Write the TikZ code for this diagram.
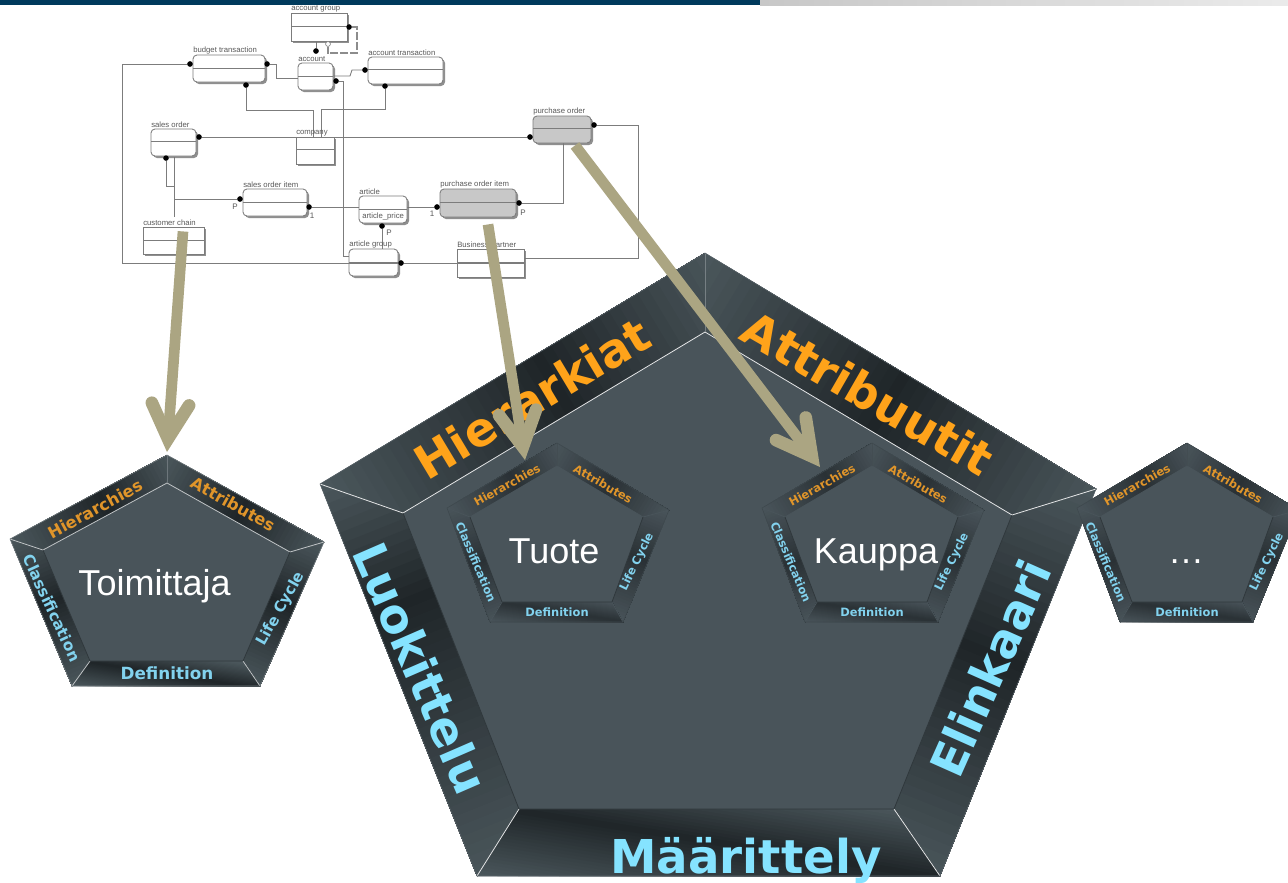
\documentclass[tikz,border=0pt]{standalone}
\usepackage{fontspec}
\setmainfont{Liberation Sans}
\newfontfamily\dvb{DejaVu Sans Bold}
\usetikzlibrary{arrows.meta,shadows,calc}
\definecolor{facecol}{HTML}{49545A}
\definecolor{darkcol}{HTML}{1F2528}
\definecolor{softdark}{HTML}{2A3135}
\definecolor{lightcol}{HTML}{4A565B}
\definecolor{orangeA}{HTML}{FFA31A}
\definecolor{cyanA}{HTML}{85E3FF}
\definecolor{orangeB}{HTML}{E0952A}
\definecolor{cyanB}{HTML}{82D2EE}
\definecolor{arrowcol}{HTML}{ABA582}
\definecolor{barblue}{HTML}{003A5C}
\definecolor{erlinecol}{HTML}{7C7C7C}
\definecolor{ergray}{HTML}{C8C8C8}
\tikzset{
 erbase/.style={draw=erlinecol,line width=0.65pt,inner sep=0pt,drop shadow={shadow xshift=1.5pt,shadow yshift=-1.5pt,fill=black!55,opacity=.8}},
 erconn/.style={draw=erlinecol,line width=0.65pt},
 erdot/.style={circle,fill=black,inner sep=0pt,minimum size=4pt},
 opendot/.style={circle,fill=white,draw=erlinecol,line width=.4pt,inner sep=0pt,minimum size=3.4pt},
 erlabel/.style={anchor=south west,inner sep=0pt,font=\fontsize{5.8}{6}\selectfont,text=black!65},
 ercard/.style={inner sep=0pt,font=\fontsize{6}{6}\selectfont,text=black!65},
 bigarrow/.style={draw=arrowcol,line width=8pt,-{Straight Barb[length=26pt,width=28pt,line width=9.5pt,line cap=round,line join=miter]}},
 seam/.style={line width=.6pt},
 smallorange/.style={inner sep=0pt,text=orangeB,font=\dvb\fontsize{8.6}{9}\selectfont},
 smallcyan/.style={inner sep=0pt,text=cyanB,font=\dvb\fontsize{8.6}{9}\selectfont},
 midtext/.style={inner sep=0pt,text=#1},
 bigorange/.style={inner sep=0pt,text=orangeA,font=\dvb\fontsize{35}{36}\selectfont},
 bigcyan/.style={inner sep=0pt,text=cyanA,font=\dvb\fontsize{35}{36}\selectfont},
 ptitle/.style={inner sep=0pt,anchor=base,text=white,font=\fontsize{27}{28}\selectfont},
}
% \erbox{name}{x1}{y1}{x2}{y2}{divider y}{fill}{radius}{label}
\newcommand{\erbox}[9]{%
 \path let \n1={(#2+#4)/2},\n2={(#3+#5)/2},\n3={(#4-#2)*0.75},\n4={(#5-#3)*0.75} in
 node[erbase,fill=#7,rounded corners=#8,minimum width=\n3 pt,minimum height=\n4 pt] (#1) at (\n1,\n2) {};
 \draw[erconn] (#2,#6) -- (#4,#6);
 \node[erlabel] (#1L) at (#2,#3-1) {#9};
}
% \gradpanel{clip path}{A}{B}{position of darkest}{light colour}
\newcommand{\gradpanel}[5]{%
 \begin{scope}
 \clip #1;
 \fill[#5] (-100,-100) rectangle (1400,1000);
 \pgfpointdiff{\pgfpointanchor{#2}{center}}{\pgfpointanchor{#3}{center}}
 \pgfgetlastxy{\gx}{\gy}
 \pgfmathsetmacro\gang{atan2(\gy,\gx)}
 \pgfmathsetmacro\glen{veclen(\gx,\gy)}
 \begin{scope}[shift={(#2)},rotate=\gang,x=1pt,y=1pt]
 \foreach \i in {1,...,40}{
  \pgfmathsetmacro\gt{\i/40}
  \pgfmathsetmacro\gp{\gt<#4 ? 100*\gt/#4 : 100*(1-\gt)/(1-#4)}
  \colorlet{gc}{pandark!\gp!#5}
  \pgfmathsetmacro\gs{\gt*\glen}
  \fill[gc] (\gs,-1500) rectangle (1500,1500);
 }
 \end{scope}
 \end{scope}
}
% \penta{prefix}{seam colour}{top seam}{outer outline}{light colour}{dark colour}{left-panel darkest}
\newcommand{\penta}[7]{%
 \colorlet{pandark}{#6}
 \fill[facecol] (#1o1)--(#1o2)--(#1o3)--(#1o4)--(#1o5)--cycle;
 \gradpanel{(#1o5)--(#1o1)--(#1i1)--(#1i5)--cycle}{#1o5}{#1o1}{.55}{#5}
 \gradpanel{(#1o1)--(#1o2)--(#1i2)--(#1i1)--cycle}{#1o1}{#1o2}{.5}{#5}
 \gradpanel{(#1o5)--(#1i5)--(#1i4)--(#1o4)--cycle}{#1o5}{#1o4}{#7}{#5}
 \gradpanel{(#1o2)--(#1i2)--(#1i3)--(#1o3)--cycle}{#1o2}{#1o3}{.45}{#5}
 \coordinate (#1gb) at ($(#1o4)!1.92!-9:(#1o4 |- #1i4)$);
 \gradpanel{(#1i4)--(#1i3)--(#1o3)--(#1o4)--cycle}{#1o4}{#1gb}{.54}{#5}
 \fill[facecol] (#1i1)--(#1i2)--(#1i3)--(#1i4)--(#1i5)--cycle;
 \draw[seam,draw=#2] (#1o5)--(#1i5)--(#1i1)--(#1i2)--(#1o2);
 \draw[seam,draw=#2] (#1o4)--(#1i4);
 \draw[seam,draw=#2] (#1o3)--(#1i3);
 \draw[seam,draw=darkcol!60!facecol] (#1i5)--(#1i4)--(#1i3)--(#1i2);
 \draw[line width=.4pt,draw=#3] (#1o1)--(#1i1);
 \draw[line width=.4pt,draw=#4] (#1o1)--(#1o2)--(#1o3)--(#1o4)--(#1o5)--cycle;
}
\newcommand{\pcoords}[3]{% prefix, dx, dy : small pentagon family from Tuote
 \coordinate (#1o1) at (557+#2,443+#3);
 \coordinate (#1o2) at (669+#2,510+#3);
 \coordinate (#1o3) at (623+#2,622+#3);
 \coordinate (#1o4) at (490+#2,622+#3);
 \coordinate (#1o5) at (447+#2,508+#3);
 \coordinate (#1i1) at (557+#2,466+#3);
 \coordinate (#1i2) at (643+#2,517+#3);
 \coordinate (#1i3) at (612+#2,602+#3);
 \coordinate (#1i4) at (502+#2,602+#3);
 \coordinate (#1i5) at (470+#2,517+#3);
}
\newcommand{\plabels}[3]{% prefix, dx, dy small labels
 \node[smallorange,rotate=29] (#1h) at (507+#2,485+#3) {Hierarchies};
 \node[smallorange,rotate=-30] (#1a) at (603+#2,484+#3) {Attributes};
 \node[smallcyan,rotate=-67] (#1c) at (476+#2,562+#3) {Classification};
 \node[smallcyan,rotate=64] (#1l) at (637+#2,562+#3) {Life Cycle};
 \node[smallcyan] (#1d) at (557+#2,612+#3) {Definition};
}
\begin{document}
\begin{tikzpicture}[x=0.75pt,y=-0.75pt]
\useasboundingbox (0,0) rectangle (1288,882);
\fill[white] (0,0) rectangle (1288,882);
% top bar
\fill[barblue] (0,0) rectangle (760,5);
\shade[left color=black!22,right color=black!8] (760,0) rectangle (1288,5);

% ---- ER diagram: dots
\node[erdot] (dBudL) at (190,64) {};
\node[erdot] (dBudR) at (267,64) {};
\node[erdot] (dBudB) at (246,85) {};
\node[erdot] (dGrpR) at (349,27) {};
\node[erdot] (dGrpB) at (316,51) {};
\node[opendot] (dGrpO) at (328,44) {};
\node[erdot] (dAccT) at (365,70) {};
\node[erdot] (dAccR) at (336,81) {};
\node[erdot] (dTrB) at (385,86) {};
\node[erdot] (dSoR) at (199,137) {};
\node[erdot] (dSoB) at (166,158) {};
\node[erdot] (dPoL) at (530,137) {};
\node[erdot] (dPoR) at (594,125) {};
\node[erdot] (dSiL) at (240,199) {};
\node[erdot] (dSiR) at (309,207) {};
\node[erdot] (dPiL) at (437,207) {};
\node[erdot] (dPiR) at (519,203) {};
\node[erdot] (dArB) at (382,226) {};
\node[erdot] (dAgR) at (401,263) {};

\coordinate (cAccL) at (298,78);
\coordinate (cAccR) at (333,76);
\coordinate (cBudComp) at (313,137);
\coordinate (cTrComp) at (321,137);
\coordinate (cGrpB) at (316,41);
\coordinate (cChainT) at (174,217);
\coordinate (cPoB) at (563,143);
\coordinate (cAgL) at (349,256);
\coordinate (cAgW) at (349,263);
\coordinate (cBpW) at (457,263);
\coordinate (cBpE) at (524,258);
\coordinate (cArL) at (359,207);
\coordinate (cArR) at (407,207);
\coordinate (cAgT) at (382,249);

% ---- ER connectors
\draw[erconn] (dBudL) -- (122,64) -- (122,263) -- (cAgW);
\draw[erconn] (dBudR) -- (276,64) -- (276,78) -- (cAccL);
\draw[erconn] (dBudB) -- (246,110) -- (313,110) -- (cBudComp);
\draw[erconn] (dTrB) -- (385,109) -- (321,109) -- (cTrComp);
\draw[erconn] (cAccR) -- (350,76) -- (352,70) -- (dAccT);
\draw[erconn] (dAccR) -- (343,81) -- (343,256) -- (cAgL);
\draw[erconn] (dGrpB) -- (cGrpB);
\draw[draw=black!45,line width=.8pt,dash pattern=on 6pt off 1.5pt] (dGrpR) -- (357,27) -- (357,53) -- (328,53) -- (dGrpO);
\draw[erconn] (dSoR) -- (dPoL);
\draw[erconn] (dSoB) -- (166,186) -- (174,186);
\draw[erconn] (174,157) -- (cChainT);
\draw[erconn] (174,199) -- (dSiL);
\draw[erconn] (dSiR) -- (cArL);
\draw[erconn] (cArR) -- (dPiL);
\draw[erconn] (dArB) -- (cAgT);
\draw[erconn] (dAgR) -- (cBpW);
\draw[erconn] (dPiR) -- (563,203) -- (cPoB);
\draw[erconn] (cBpE) -- (638,258) -- (638,125) -- (dPoR);

% ---- ER boxes
\erbox{acgroup}{291}{13}{347}{41}{26}{white}{0pt}{account group}
\erbox{budget}{193}{55}{265}{82}{68}{white}{3pt}{budget transaction}
\erbox{account}{298}{63}{333}{90}{76}{white}{3pt}{account}
\erbox{actrans}{368}{57}{443}{84}{69}{white}{3pt}{account transaction}
\erbox{sorder}{151}{129}{196}{156}{141}{white}{3pt}{sales order}
\erbox{company}{296}{137}{334}{164}{149}{white}{0pt}{company}
\erbox{soitem}{243}{189}{307}{216}{202}{white}{3pt}{sales order item}
\erbox{article}{359}{196}{407}{223}{209}{white}{3pt}{article}
\erbox{chain}{143}{227}{204}{254}{240}{white}{0pt}{customer chain}
\erbox{agroup}{349}{249}{398}{276}{262}{white}{3pt}{article group}
\erbox{porder}{533}{116}{591}{143}{128}{ergray}{3pt}{purchase order}
\erbox{poitem}{440}{189}{516}{217}{202}{ergray}{3pt}{purchase order item}
\erbox{bpartner}{457}{249}{524}{277}{262}{white}{0pt}{Business Partner}
\node[ercard,anchor=west,font=\fontsize{5.8}{6}\selectfont] (tPrice) at (362,216) {article\_price};
\node[ercard] (cP1) at (235,207) {P};
\node[ercard] (c11) at (312,216) {1};
\node[ercard] (cP2) at (389,233) {P};
\node[ercard] (c12) at (432,214) {1};
\node[ercard] (cP3) at (523,213) {P};
\draw[erconn] (agroup.west |- cAgW) -- (agroup.east |- cAgW);
\draw[erconn] (bpartner.west |- cAgW) -- (bpartner.east |- cAgW);

% ---- dots on top of the boxes
\foreach \d in {dBudL,dBudR,dBudB,dGrpR,dGrpB,dAccT,dAccR,dTrB,dSoR,dSoB,dPoL,dPoR,dSiL,dSiR,dPiL,dPiR,dArB,dAgR}
 \fill[black] (\d) circle (2.7);
\draw[fill=white,draw=erlinecol,line width=.4pt] (dGrpO) circle (2.4);

% ---- big pentagon
\coordinate (bo1) at (705,253);
\coordinate (bo2) at (1096,489);
\coordinate (bo3) at (940,876);
\coordinate (bo4) at (477,876);
\coordinate (bo5) at (320,484);
\coordinate (bi1) at (705,332);
\coordinate (bi2) at (1012,515);
\coordinate (bi3) at (894,809);
\coordinate (bi4) at (519,809);
\coordinate (bi5) at (403,513);
\penta{b}{white!85!facecol}{facecol!75!white}{facecol!90!white}{lightcol}{darkcol}{.32}
\node[bigorange,rotate=31] (bHier) at (532,398) {Hierarkiat};
\node[bigorange,rotate=-30] (bAttr) at (868,393) {Attribuutit};
\node[bigcyan,rotate=-66.5] (bLuok) at (421,668) {Luokittelu};
\node[bigcyan,rotate=66] (bElin) at (990,668) {Elinkaari};
\node[bigcyan,anchor=base] (bMaar) at (746,873) {Määrittely};

% ---- Toimittaja pentagon
\coordinate (ao1) at (167,455);
\coordinate (ao2) at (324,542);
\coordinate (ao3) at (260,686);
\coordinate (ao4) at (72,686);
\coordinate (ao5) at (10,539);
\coordinate (ai1) at (167,483);
\coordinate (ai2) at (290,552);
\coordinate (ai3) at (243,661);
\coordinate (ai4) at (90,661);
\coordinate (ai5) at (43,550);
\penta{a}{white!65!facecol}{facecol!80!white}{facecol!75!white}{lightcol}{darkcol}{.45}
\node[midtext=orangeB,rotate=28.5,font=\dvb\fontsize{12.2}{13}\selectfont] (aHier) at (95,509) {Hierarchies};
\node[midtext=orangeB,rotate=-29,font=\dvb\fontsize{12.2}{13}\selectfont] (aAttr) at (233,504) {Attributes};
\node[midtext=cyanB,rotate=-65,font=\dvb\fontsize{11.6}{12}\selectfont] (aClas) at (52,608) {Classification};
\node[midtext=cyanB,rotate=61,font=\dvb\fontsize{11.3}{12}\selectfont] (aLife) at (281,609) {Life Cycle};
\node[midtext=cyanB,font=\dvb\fontsize{12.6}{13}\selectfont] (aDefi) at (167,673) {Definition};
\node[ptitle] (aTitle) at (154.5,595) {Toimittaja};

% ---- small pentagons
\pcoords{t}{0}{0}
\penta{t}{facecol}{darkcol!15!facecol}{darkcol!25!facecol}{facecol}{softdark}{.5}
\plabels{t}{0}{0}
\node[ptitle] (tTitle) at (554,563) {Tuote};
\pcoords{k}{315}{0}
\penta{k}{facecol}{darkcol!15!facecol}{darkcol!25!facecol}{facecol}{softdark}{.5}
\plabels{k}{315}{0}
\node[ptitle] (kTitle) at (876,563) {Kauppa};
\pcoords{r}{630}{0}
\penta{r}{facecol}{darkcol!15!facecol}{darkcol!25!facecol}{facecol}{softdark}{.5}
\plabels{r}{630}{0}
\node[ptitle] (rTitle) at (1186,563) {…};

% ---- big arrows
\coordinate (endA) at (167,452);
\coordinate (endT) at (525,460);
\coordinate (endK) at (820,467);
\draw[bigarrow] ($(chain.south)+(9.5,-23)$) -- (endA);
\draw[bigarrow] ($(poitem.south)+(10,7)$) -- (endT);
\draw[bigarrow] ($(porder.south)+(13,2)$) -- (endK);
\end{tikzpicture}
\end{document}
